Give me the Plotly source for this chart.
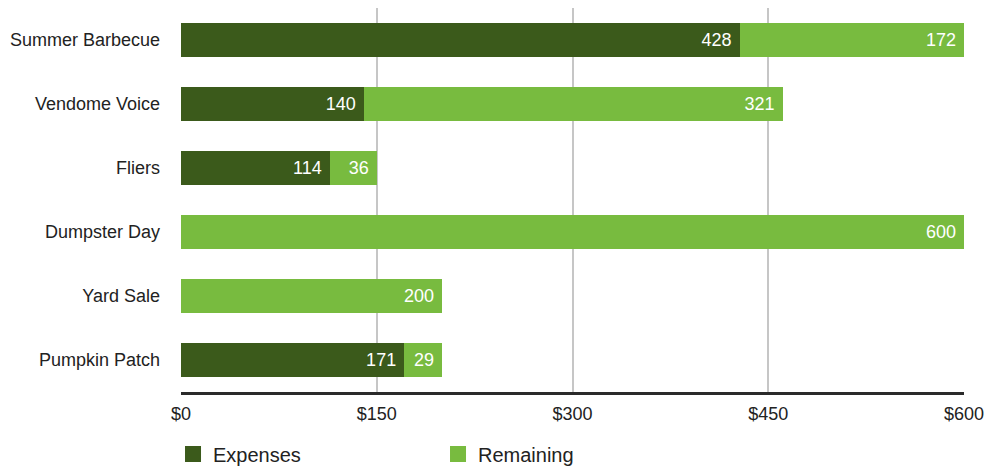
import plotly.graph_objects as go

categories = ["Summer Barbecue", "Vendome Voice", "Fliers", "Dumpster Day", "Yard Sale", "Pumpkin Patch"]
expenses = [428, 140, 114, 0, 0, 171]
remaining = [172, 321, 36, 600, 200, 29]
tick_vals = [0, 150, 300, 450, 600]
tick_text = ["$0", "$150", "$300", "$450", "$600"]

dark = "#3b5a1b"
light = "#78bb3f"
font_family = "Liberation Sans, Arial, sans-serif"

def labels(vals):
    return [(str(v) + "\u00a0") if v else "" for v in vals]

fig = go.Figure()
fig.add_trace(go.Bar(
    y=categories, x=expenses, orientation="h", name="Expenses",
    marker=dict(color=dark, line=dict(width=0)),
    text=labels(expenses), textposition="inside", insidetextanchor="end",
    textfont=dict(color="white", size=18, family=font_family),
    hoverinfo="x+y", showlegend=False,
))
fig.add_trace(go.Bar(
    y=categories, x=remaining, orientation="h", name="Remaining",
    marker=dict(color=light, line=dict(width=0)),
    text=labels(remaining), textposition="inside", insidetextanchor="end",
    textfont=dict(color="white", size=18, family=font_family),
    hoverinfo="x+y", showlegend=False,
))
# legend entries with larger square swatches
for name, col in [("Expenses", dark), ("Remaining", light)]:
    fig.add_trace(go.Scatter(
        x=[None], y=[None], mode="markers", name=name,
        marker=dict(symbol="square", size=16, color=col, line=dict(width=0)),
        showlegend=True, hoverinfo="skip",
    ))

fig.update_layout(
    width=984, height=468,
    barmode="stack", bargap=0.47,
    margin=dict(l=181, r=20, t=8, b=76, autoexpand=False),
    paper_bgcolor="white", plot_bgcolor="white",
    font=dict(family=font_family, size=18, color="#222222"),
    uniformtext=dict(minsize=18, mode="show"),
    xaxis=dict(
        range=[0, 600], tickvals=tick_vals, ticktext=tick_text,
        showgrid=True, gridcolor="#c6c6c6", gridwidth=1.5,
        showline=True, linecolor="#2a2a2a", linewidth=3,
        zeroline=False, ticks="", ticklabelstandoff=3,
        automargin=False, ticklabeloverflow="allow",
        tickfont=dict(size=18, color="#222222"),
    ),
    yaxis=dict(
        categoryorder="array", categoryarray=categories, autorange="reversed",
        showgrid=False, zeroline=False, showline=False, ticks="",
        ticklabelstandoff=20, automargin=False,
        tickfont=dict(size=18, color="#222222"),
    ),
    legend=dict(
        orientation="h", x=-0.0102, xanchor="left", y=-0.111, yanchor="top",
        entrywidth=220, entrywidthmode="pixels",
        font=dict(size=20, color="#222222"),
        traceorder="normal", itemsizing="trace",
    ),
    showlegend=True,
)

fig.write_html(
    "out.html",
    config={"displayModeBar": False},
    post_script="document.body.style.margin='0';document.body.style.overflow='hidden';",
)
